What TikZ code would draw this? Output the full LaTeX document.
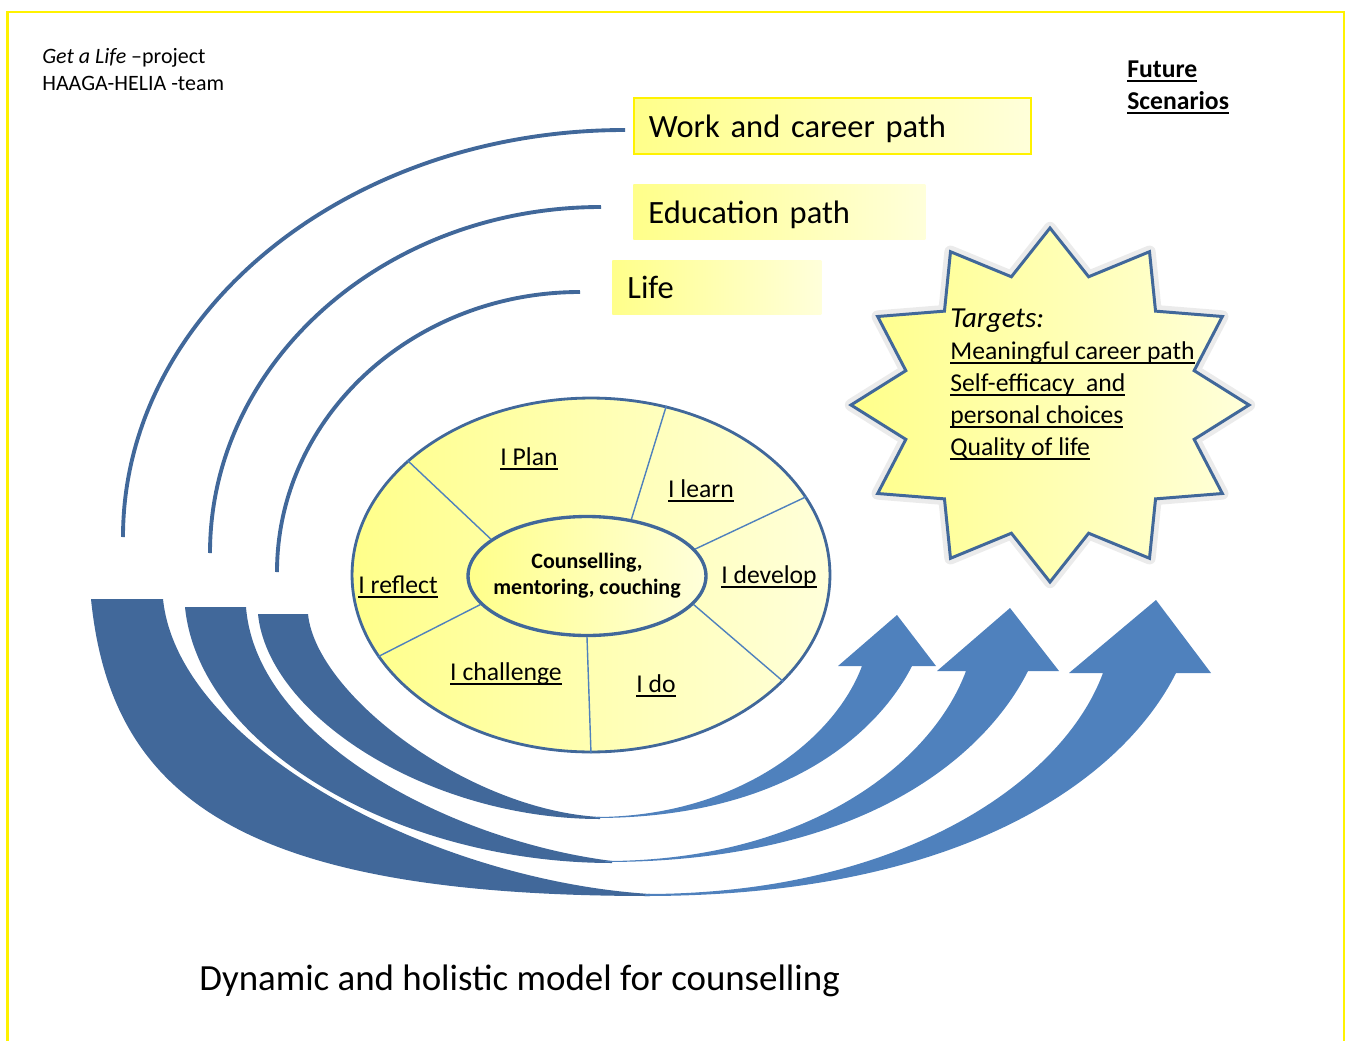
\documentclass[tikz,border=0pt]{standalone}
\usepackage{fontspec}
\setmainfont{Carlito}
\usepackage{tikz}
\usetikzlibrary{positioning, shapes.geometric}
\definecolor{bandDark}{HTML}{41689A}
\definecolor{bandLight}{HTML}{4F81BD}
\definecolor{yelDeep}{HTML}{FFFF8A}
\definecolor{yelPale}{HTML}{FFFFDA}
\newcommand{\ulbar}[1]{\setbox0\hbox{#1}\rlap{\rule[-0.19em]{\wd0}{0.075em}}\box0}

\begin{document}
\begin{tikzpicture}[
        x=0.02cm, y=-0.02cm,
        pathbox/.style={anchor=west, minimum height=1.12cm, inner xsep=0.3cm, align=left,
          text height=17pt, text depth=4pt,
          left color=yelDeep, right color=yelPale, font=\fontsize{18.5}{22}\selectfont},
        ring/.style={ellipse, draw=bandDark, inner sep=0pt, left color=yelDeep, right color=yelPale},
        lbl/.style={anchor=base, inner sep=0pt, font=\fontsize{14.6}{18}\selectfont},
        tgt/.style={anchor=base west, inner sep=0pt, font=\fontsize{14.6}{18}\selectfont},
        note/.style={anchor=base west, inner sep=0pt, font=\fontsize{12.5}{15}\selectfont},
        spoke/.style={draw=bandLight, line width=0.8pt},
        track/.style={draw=bandDark, line width=2.2pt}
      ]
      \useasboundingbox (0,0) rectangle (1346,1041);
      \draw[yellow, line width=1.4pt] (7.5,1041) -- (7.5,12) -- (1344,12) -- (1344,1041);

      \node[note] (proj) at (42,63) {\textit{Get a Life} --project};
      \node[note] (team) at (42,90) {HAAGA-HELIA -team};
      \node[tgt, font=\bfseries\fontsize{14.6}{18}\selectfont] (future) at (1127,77) {\ulbar{Future}};
      \node[tgt, font=\bfseries\fontsize{14.6}{18}\selectfont] (scen) at (1127,109) {\ulbar{Scenarios}};

      \node[pathbox, draw=yellow, line width=1.1pt, text width=7.34cm] (work) at (633,126) {Work and career path};
      \node[pathbox, text width=5.24cm] (edu) at (633,212) {Education path};
      \node[pathbox, text width=3.58cm, minimum height=1.1cm] (life) at (612,287.5) {Life};

      \draw[track] (work.west) ++(-8,4) arc[start angle=-90, end angle=-180, x radius=502, y radius=407];
      \draw[track] (edu.west) ++(-32,-5) arc[start angle=-90, end angle=-180, x radius=391, y radius=346];
      \draw[track] (life.west) ++(-32,4.5) arc[start angle=-90, end angle=-180, x radius=303, y radius=280];

      \fill[bandDark] (91,599) .. controls (111,799) and (244,896) .. (650,896)
        -- (650,894) .. controls (431,880) and (178,746) .. (163,599) -- cycle;
      \fill[bandDark] (185,607) .. controls (199,748) and (399,863) .. (612,863)
        -- (612,861) .. controls (447,840) and (256,737) .. (246,607) -- cycle;
      \fill[bandDark] (258,614) .. controls (268,716) and (429,819) .. (600,819)
        -- (600,817) .. controls (469,810) and (316,695) .. (308,614) -- cycle;

      \fill[bandLight] (595,818) .. controls (785,818) and (878,733) .. (912,666)
        -- (936,666) -- (897,615) -- (838,666)
        -- (862,666) .. controls (834,741) and (735,817) .. (595,817) -- cycle;
      \fill[bandLight] (605,862) .. controls (870,862) and (988,751) .. (1028,671)
        -- (1059,671) -- (1010,608) -- (937,671)
        -- (966,671) .. controls (931,765) and (805,861) .. (605,861) -- cycle;
      \fill[bandLight] (645,896) .. controls (975,896) and (1127,771) .. (1176,673)
        -- (1211,673) -- (1156,600) -- (1069,673)
        -- (1103,673) .. controls (1061,786) and (895,894) .. (645,894) -- cycle;

      \node[ring, line width=1.6pt, minimum width=9.56cm, minimum height=7.08cm] (outer) at (591,575) {};
      \node[ring, line width=1.9pt, minimum width=4.76cm, minimum height=2.38cm] (core) at (587,576) {};
      \node[align=center, font=\bfseries\fontsize{12.5}{14.7}\selectfont] (coretext) at (core) {Counselling,\\mentoring, couching};
      \foreach \a/\b in {159/148, 52/66, 14/20, -15/-29, -90/-90, 195/201}
        \draw[spoke] (core.\a) -- (outer.\b);
      \foreach \nm/\px/\py/\txt in {plan/529/465/I Plan, learn/701/497/I learn, develop/769/583/I develop,
          reflect/398/593/I reflect, challenge/506/680/I challenge, do/656/692/I do}
        \node[lbl] (\nm) at (\px,\py) {\ulbar{\txt}};

      \draw[black!8, line width=7pt, line join=round] plot[samples=24, domain=0:23]
        ({1050+199*(0.875+0.125*cos(180*\x))*cos(90+15*\x)}, {405-177*(0.875+0.125*cos(180*\x))*sin(90+15*\x)}) -- cycle;
      \draw[draw=bandDark, line width=1.7pt, left color=yelDeep, right color=yelPale] plot[samples=24, domain=0:23]
        ({1050+199*(0.875+0.125*cos(180*\x))*cos(90+15*\x)}, {405-177*(0.875+0.125*cos(180*\x))*sin(90+15*\x)}) -- cycle;
      \node[tgt, font=\itshape\fontsize{16.5}{18}\selectfont] (tgt0) at (950,327) {Targets:};
      \foreach \txt [count=\i] in {Meaningful career path, Self-efficacy\ \ and, personal choices, Quality of life}
        \node[tgt] (tgt\i) at (950,{327+32*\i}) {\ulbar{\txt}};

      \node[anchor=base west, inner sep=0pt, font=\fontsize{21}{25}\selectfont] (title) at (199,990) {Dynamic and holistic model for counselling};
    \end{tikzpicture}
\end{document}
